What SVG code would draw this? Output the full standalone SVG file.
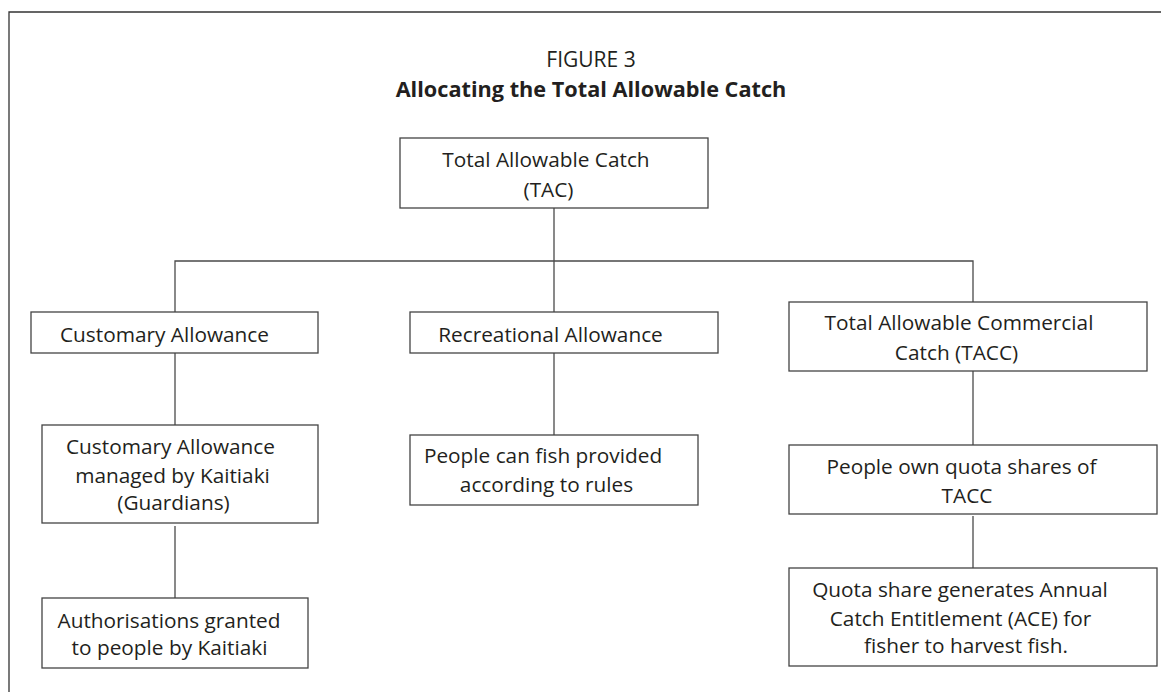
<svg xmlns="http://www.w3.org/2000/svg" width="1161" height="692" viewBox="0 0 1161 692">
<style>
  .bg { fill: #ffffff; }
  .frame { fill: none; stroke: #333333; stroke-width: 1.3; }
  .box { fill: #ffffff; stroke: #444444; stroke-width: 1.3; }
  .link { fill: none; stroke: #4a4a4a; stroke-width: 1.3; }
  text { font-family: "Open Sans", "Noto Sans", "Liberation Sans", sans-serif; fill: #231f20; text-anchor: middle; }
  .lbl { font-size: 20.8px; }
  .fig { font-size: 21px; }
  .title { font-size: 21.7px; font-weight: bold; }
</style>
<rect class="bg" x="0" y="0" width="1161" height="692"/>
<path class="frame" d="M9,692 V12 H1161"/>
<g id="heading">
  <text class="fig" x="591" y="67">FIGURE 3</text>
  <text class="title" x="591" y="97">Allocating the Total Allowable Catch</text>
</g>
<g id="connectors">
  <path class="link" d="M554,208 V312"/>
  <path class="link" d="M175,312 V261 H973 V302"/>
  <path class="link" d="M175,353 V425"/>
  <path class="link" d="M175,526 V598"/>
  <path class="link" d="M554,353 V435"/>
  <path class="link" d="M973,371 V445"/>
  <path class="link" d="M973,516 V568"/>
</g>
<g id="tac">
  <rect class="box" x="400" y="138" width="308" height="70"/>
  <text class="lbl" x="546" y="167">Total Allowable Catch</text>
  <text class="lbl" x="548.5" y="197">(TAC)</text>
</g>
<g id="customary">
  <rect class="box" x="31" y="312" width="287" height="41"/>
  <text class="lbl" x="164.5" y="342">Customary Allowance</text>
</g>
<g id="recreational">
  <rect class="box" x="410" y="312" width="308" height="41"/>
  <text class="lbl" x="550.5" y="342">Recreational Allowance</text>
</g>
<g id="tacc">
  <rect class="box" x="789" y="302" width="358" height="69"/>
  <text class="lbl" x="959" y="330">Total Allowable Commercial</text>
  <text class="lbl" x="956.5" y="360">Catch (TACC)</text>
</g>
<g id="kaitiaki">
  <rect class="box" x="42" y="425" width="276" height="98"/>
  <text class="lbl" x="170.5" y="454">Customary Allowance</text>
  <text class="lbl" x="172.5" y="483">managed by Kaitiaki</text>
  <text class="lbl" x="173.5" y="510">(Guardians)</text>
</g>
<g id="authorisations">
  <rect class="box" x="42" y="598" width="266" height="70"/>
  <text class="lbl" x="169" y="628">Authorisations granted</text>
  <text class="lbl" x="169.5" y="655">to people by Kaitiaki</text>
</g>
<g id="rules">
  <rect class="box" x="410" y="435" width="288" height="70"/>
  <text class="lbl" x="543" y="463">People can fish provided</text>
  <text class="lbl" x="546.5" y="492">according to rules</text>
</g>
<g id="quota-shares">
  <rect class="box" x="789" y="445" width="368" height="69"/>
  <text class="lbl" x="961.5" y="474">People own quota shares of</text>
  <text class="lbl" x="967" y="503">TACC</text>
</g>
<g id="ace">
  <rect class="box" x="789" y="568" width="368" height="98"/>
  <text class="lbl" x="960" y="597">Quota share generates Annual</text>
  <text class="lbl" x="960.5" y="626">Catch Entitlement (ACE) for</text>
  <text class="lbl" x="966" y="653">fisher to harvest fish.</text>
</g>
</svg>
